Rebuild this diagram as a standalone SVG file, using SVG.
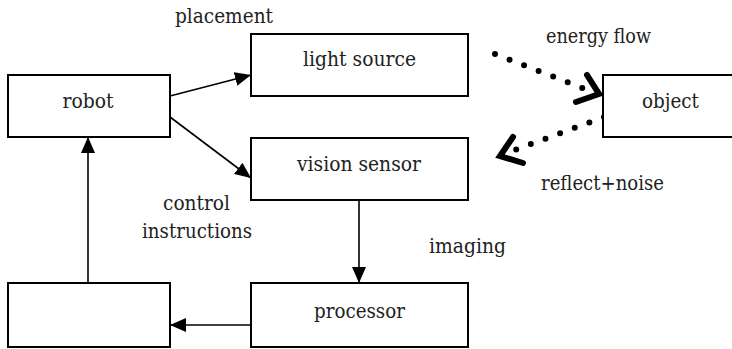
<svg xmlns="http://www.w3.org/2000/svg" width="732" height="349" viewBox="0 0 732 349">
<defs>
<style>
.box{fill:#fff;stroke:#000;stroke-width:2}
.t{font-family:"DejaVu Serif",serif;font-size:21px;fill:#222;text-anchor:middle}
.ln{stroke:#000;stroke-width:1.6;fill:none}
.dot{stroke:#000;stroke-width:6;stroke-linecap:round;stroke-dasharray:0 15.6;fill:none}
.chev{stroke:#000;stroke-width:6;stroke-linecap:round;stroke-linejoin:miter;fill:none}
</style>
<marker id="ah" viewBox="0 0 16 14" refX="16" refY="7" markerWidth="16" markerHeight="14" markerUnits="userSpaceOnUse" orient="auto">
<path d="M0,0 L16,7 L0,14 Z" fill="#000"/>
</marker>
</defs>
<rect width="732" height="349" fill="#fff"/>
<g id="connectors">
<line class="ln" x1="170" y1="96" x2="251" y2="75" marker-end="url(#ah)"/>
<line class="ln" x1="170" y1="117" x2="251" y2="178" marker-end="url(#ah)"/>
<line class="ln" x1="88" y1="283" x2="88" y2="137" marker-end="url(#ah)"/>
<line class="ln" x1="359" y1="200" x2="359" y2="283" marker-end="url(#ah)"/>
<line class="ln" x1="251" y1="325" x2="170" y2="325" marker-end="url(#ah)"/>
<path class="dot" d="M495,54 L585,89"/>
<polyline class="chev" points="587,75 599,94 576,102"/>
<path class="dot" d="M604,117 L512,151"/>
<polyline class="chev" points="513,137 500,156 523,163"/>
</g>
<g id="robot"><rect class="box" x="8" y="75" width="162" height="62"/><text class="t" x="88" y="108" textLength="51" lengthAdjust="spacingAndGlyphs">robot</text></g>
<g id="light-source"><rect class="box" x="251" y="34" width="217" height="62"/><text class="t" x="359.5" y="66" textLength="113" lengthAdjust="spacingAndGlyphs">light source</text></g>
<g id="vision-sensor"><rect class="box" x="251" y="138" width="217" height="62"/><text class="t" x="359" y="171" textLength="124" lengthAdjust="spacingAndGlyphs">vision sensor</text></g>
<g id="object"><rect class="box" x="603" y="75" width="140" height="62"/><text class="t" x="670.5" y="108" textLength="57" lengthAdjust="spacingAndGlyphs">object</text></g>
<g id="controller"><rect class="box" x="8" y="283" width="162" height="64"/></g>
<g id="processor"><rect class="box" x="251" y="283" width="217" height="64"/><text class="t" x="359.5" y="318" textLength="91" lengthAdjust="spacingAndGlyphs">processor</text></g>
<g id="labels">
<text class="t" x="224" y="23" textLength="98" lengthAdjust="spacingAndGlyphs">placement</text>
<text class="t" x="598.5" y="43" textLength="105" lengthAdjust="spacingAndGlyphs">energy flow</text>
<text class="t" x="602.5" y="190" textLength="123" lengthAdjust="spacingAndGlyphs">reflect+noise</text>
<text class="t" x="467.5" y="253" textLength="77" lengthAdjust="spacingAndGlyphs">imaging</text>
<text class="t" x="196.5" y="210" textLength="67" lengthAdjust="spacingAndGlyphs">control</text>
<text class="t" x="197" y="238" textLength="110" lengthAdjust="spacingAndGlyphs">instructions</text>
</g>
</svg>
